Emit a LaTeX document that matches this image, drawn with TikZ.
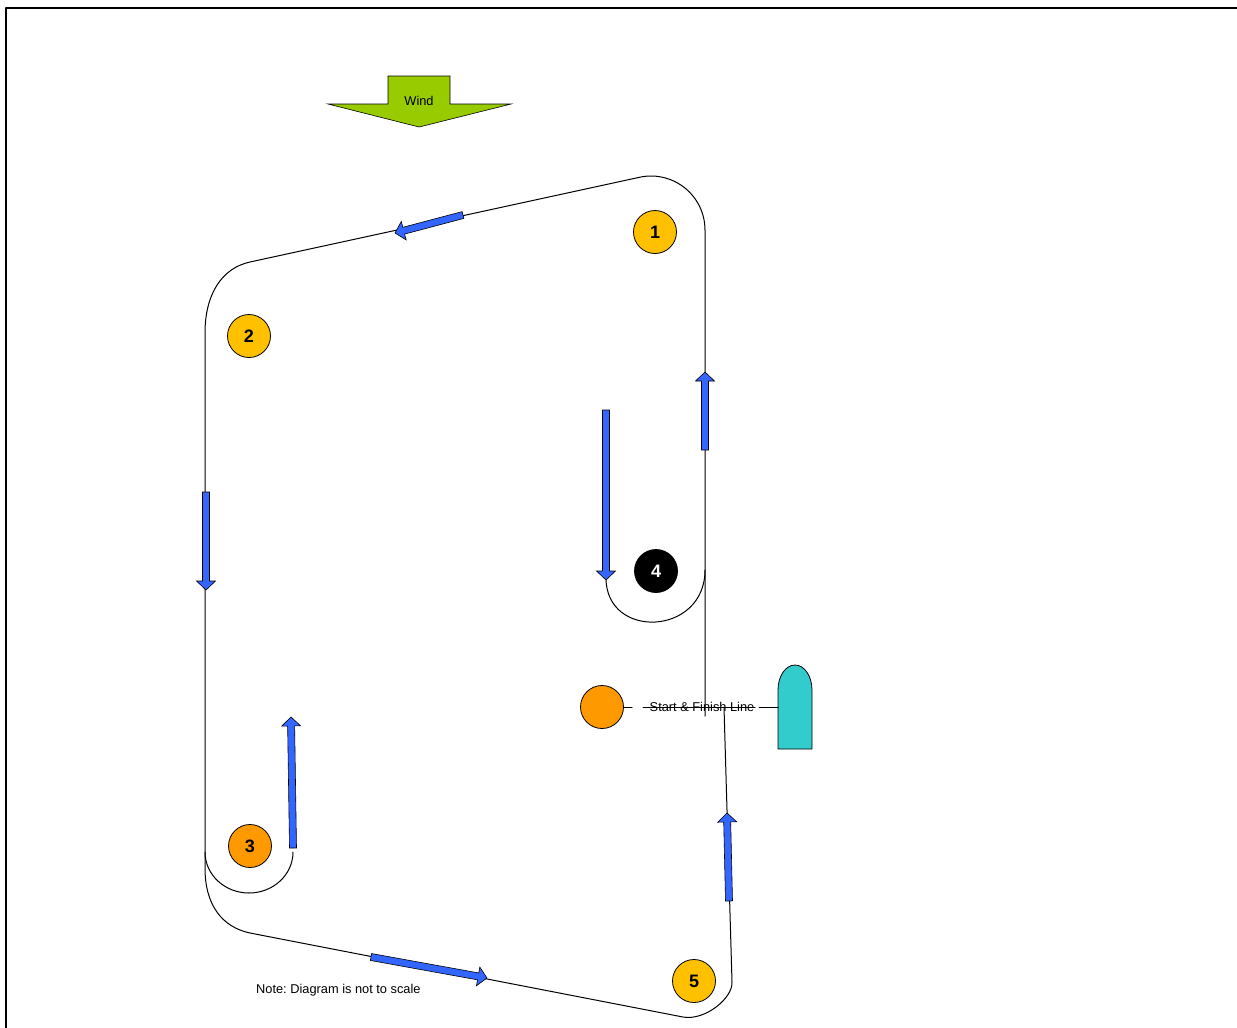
\documentclass[tikz,border=0pt]{standalone}
\usepackage{fontspec}
\setmainfont{Liberation Sans}
\usetikzlibrary{calc}
\frenchspacing
\definecolor{markyellow}{HTML}{FFC000}
\definecolor{markorange}{HTML}{FF9900}
\definecolor{legblue}{HTML}{3366FF}
\definecolor{windgreen}{HTML}{99CC00}
\definecolor{boatteal}{HTML}{33CCCC}
\tikzset{
  course/.style={line width=1},
  legarrow/.style={draw=black, line width=0.6, fill=legblue, line join=miter},
  buoy/.style={circle, draw, line width=0.8, minimum size=43, inner sep=0pt, font=\bfseries\fontsize{18}{18}\selectfont},
}
% block arrow from #1 to #2 (shaft 7, head 19 wide, 9 long)
\newcommand{\legarrow}[2]{%
  \draw[legarrow] ($(#1)!3.5pt!90:(#2)$) -- ($(#2)!9.66pt!-21.25:(#1)$) -- ($(#2)!13.09pt!-46.55:(#1)$) -- (#2)
    -- ($(#2)!13.09pt!46.55:(#1)$) -- ($(#2)!9.66pt!21.25:(#1)$) -- ($(#1)!3.5pt!-90:(#2)$) -- cycle;}
\begin{document}
\begin{tikzpicture}[x=1pt, y=1pt, font=\fontsize{12.8}{15}\selectfont, line join=round, line cap=round]
		\useasboundingbox (0,0) rectangle (1237,-1028);
		\draw[line width=1.8, line cap=butt] (6,-1028) -- (6,-8) -- (1237,-8);
		% wind
		\draw[line width=0.6, fill=windgreen, line join=miter] (388,-76) -- (450,-76) -- (450,-104) -- (511,-104) -- (419,-127) -- (328,-104) -- (388,-104) -- cycle;
		\node (wind) at (419,-101) {Wind};
		% course legs
		\draw[course] (705,-716) -- (705,-230) arc[start angle=0, end angle=100, radius=54] -- (250,-262)
		  .. controls (222,-268) and (205,-294) .. (205,-333) -- (205,-852)
		  arc[start angle=180, end angle=360, x radius=44, y radius=41];
		\draw[course] (205,-852) -- (205,-868) .. controls (205,-905) and (222,-927) .. (250,-933) -- (683,-1017)
		  .. controls (705,-1021) and (733,-998) .. (732,-982) -- (724,-707);
		\draw[course] (705,-570) .. controls (705,-636) and (606,-640) .. (606,-578);
		% marks
		\node[buoy, fill=markyellow] (m1) at (655,-232) {1};
		\node[buoy, fill=markyellow] (m2) at (249,-336) {2};
		\node[buoy, fill=markorange] (m3) at (250,-846) {3};
		\node[buoy, fill=black, text=white] (m4) at (656,-571) {4};
		\node[buoy, fill=markyellow] (m5) at (694,-981) {5};
		\node[buoy, fill=markorange] (pin) at (602,-707) {};
		% committee boat
		\draw[line width=0.8, fill=boatteal] (778,-749) -- (778,-690) arc[start angle=180, end angle=0, x radius=17, y radius=25] -- (812,-749) -- cycle;
		\coordinate (boat) at (778,-707);
		\draw[course] (pin) -- (632,-707) (643,-707) -- (755,-707) (759,-707) -- (boat);
		\node (sfl) at (702,-707) {Start \& Finish Line};
		% direction arrows
		\foreach \xa/\ya/\xb/\yb in {463/-215/395/-233, 206/-492/206/-590, 606/-410/606/-580, 705/-450/705/-372,
		  293/-848/291/-717, 371/-957/487/-978, 729/-901/727/-813}
		\legarrow{\xa,\ya}{\xb,\yb};
		\node[anchor=west, inner sep=0pt] (note) at (256,-990) {Note: Diagram is not to scale};
\end{tikzpicture}
\end{document}
